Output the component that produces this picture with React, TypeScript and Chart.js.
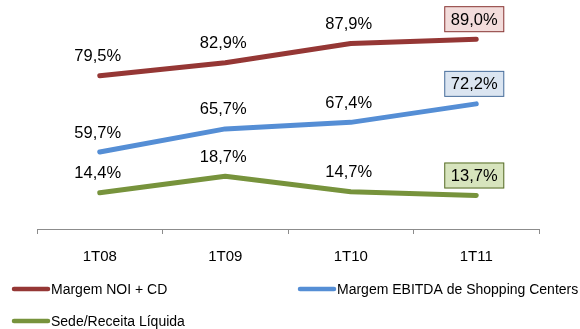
import React, { useEffect, useRef } from "react";
import { Chart, registerables } from "chart.js";

Chart.register(...registerables);

const quarters = ["1T08", "1T09", "1T10", "1T11"];
const noiMargin = [79.5, 82.9, 87.9, 89.0];
const ebitdaMargin = [59.7, 65.7, 67.4, 72.2];
const hqRatio = [14.4, 18.7, 14.7, 13.7];

const seriesNames = ["Margem NOI + CD", "Margem EBITDA de Shopping Centers", "Sede/Receita Líquida"];
const lineColors = ["#953735", "#558ed5", "#77933c"];
const boxFills = ["#f2dcdb", "#dbe5f1", "#d7e4bd"];
const boxBorders = ["#8a3a38", "#4a6f9c", "#5a6e2c"];

const fmt = (v: number) => v.toFixed(1).replace(".", ",") + "%";

// Value labels above each point; the latest quarter gets a framed box.
const valueLabels = {
  id: "valueLabels",
  afterDatasetsDraw(chart: any) {
    const ctx = chart.ctx;
    ctx.save();
    ctx.font = "16.5px 'Liberation Sans', Arial, sans-serif";
    ctx.textAlign = "center";
    ctx.textBaseline = "middle";
    chart.data.datasets.forEach((ds: any, di: number) => {
      const meta = chart.getDatasetMeta(di);
      meta.data.forEach((pt: any, i: number) => {
        const v = ds.data[i];
        const x = pt.x - 2;
        const y = pt.y - 20;
        if (i === ds.data.length - 1) {
          ctx.fillStyle = boxFills[di];
          ctx.strokeStyle = boxBorders[di];
          ctx.lineWidth = 1;
          ctx.fillRect(x - 30, y - 13, 60, 26);
          ctx.strokeRect(x - 29.5, y - 12.5, 59, 25);
        }
        ctx.fillStyle = "#000";
        ctx.fillText(fmt(v), x, y + 1);
      });
    });
    ctx.restore();
  },
};

// Two-column legend under the axis.
const bottomLegend = {
  id: "bottomLegend",
  afterDraw(chart: any) {
    const ctx = chart.ctx;
    const spots = [
      { x: 12, y: 289 },
      { x: 298, y: 289 },
      { x: 12, y: 321 },
    ];
    ctx.save();
    ctx.font = "14px 'Liberation Sans', Arial, sans-serif";
    ctx.textBaseline = "middle";
    ctx.textAlign = "left";
    chart.data.datasets.forEach((ds: any, di: number) => {
      const s = spots[di];
      ctx.strokeStyle = ds.borderColor;
      ctx.lineWidth = 4.5;
      ctx.lineCap = "round";
      ctx.beginPath();
      ctx.moveTo(s.x + 2, s.y);
      ctx.lineTo(s.x + 36, s.y);
      ctx.stroke();
      ctx.fillStyle = "#000";
      ctx.fillText(ds.label, s.x + 39, s.y + 1);
    });
    ctx.restore();
  },
};

export default function App() {
  const ref = useRef<HTMLCanvasElement>(null);

  useEffect(() => {
    if (!ref.current) return;
    const mk = (label: string, data: number[], color: string, axis: string) => ({
      label,
      data,
      borderColor: color,
      backgroundColor: color,
      borderWidth: 5,
      borderCapStyle: "round" as const,
      borderJoinStyle: "round" as const,
      pointRadius: 0,
      tension: 0,
      yAxisID: axis,
    });
    const chart = new Chart(ref.current, {
      type: "line",
      data: {
        labels: quarters,
        datasets: [
          mk(seriesNames[0], noiMargin, lineColors[0], "y"),
          mk(seriesNames[1], ebitdaMargin, lineColors[1], "y"),
          mk(seriesNames[2], hqRatio, lineColors[2], "y1"),
        ],
      },
      options: {
        responsive: false,
        animation: false,
        devicePixelRatio: 1,
        layout: { padding: { left: 37, right: 41, top: 8, bottom: 0 } },
        plugins: { legend: { display: false }, tooltip: { enabled: false } },
        scales: {
          x: {
            offset: true,
            afterFit: (s: any) => {
              s.height = 100;
            },
            grid: {
              offset: true,
              drawOnChartArea: false,
              drawTicks: true,
              tickLength: 5,
              color: "#8c8c8c",
            },
            border: { display: true, color: "#8c8c8c", width: 1 },
            ticks: {
              color: "#000",
              padding: 14,
              font: { family: "'Liberation Sans', Arial, sans-serif", size: 15 },
            },
          },
          y: { display: false, min: 39.7, max: 97.1 },
          y1: { display: false, min: 5, max: 62.4 },
        },
      },
      plugins: [valueLabels, bottomLegend],
    });
    return () => chart.destroy();
  }, []);

  return (
    <div style={{ position: "absolute", left: 0, top: 0, width: 580, height: 329, background: "#fff" }}>
      <canvas ref={ref} width={580} height={329} />
    </div>
  );
}
